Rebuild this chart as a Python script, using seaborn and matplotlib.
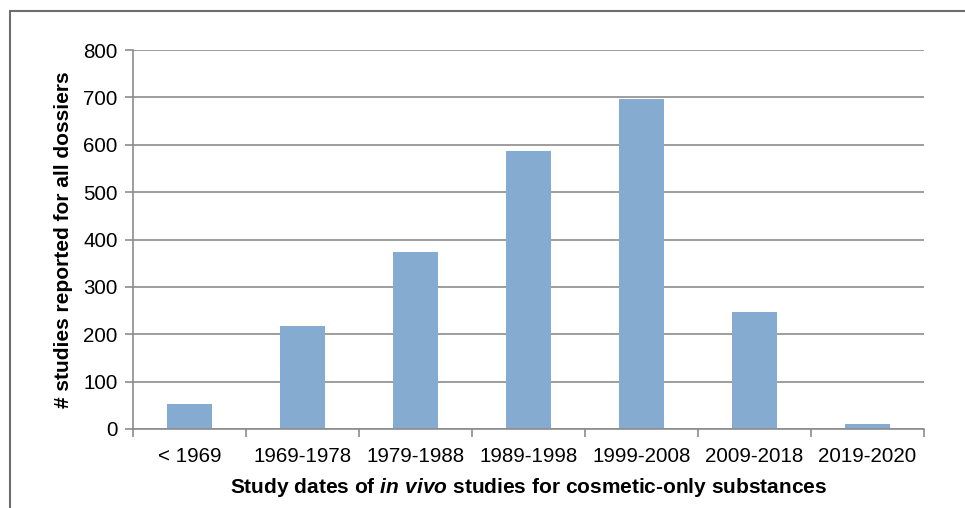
import matplotlib
matplotlib.use('Agg')
import matplotlib.pyplot as plt
import seaborn as sns
import pandas as pd
from matplotlib.patches import Rectangle

#-- Data:

periods = ['< 1969', '1969-1978', '1979-1988', '1989-1998', '1999-2008', '2009-2018', '2019-2020']
n_studies = [53, 217, 373, 586, 697, 247, 10]

df = pd.DataFrame({'period': periods, 'n_studies': n_studies})

#-- Style:

sns.set_style('white')
plt.rcParams['font.family'] = ['Liberation Sans', 'DejaVu Sans']
plt.rcParams['mathtext.fontset'] = 'custom'
plt.rcParams['mathtext.bfit'] = 'Liberation Sans:italic:bold'
plt.rcParams['mathtext.bf'] = 'Liberation Sans:bold'
plt.rcParams['text.color'] = 'black'
plt.rcParams['axes.labelcolor'] = 'black'
plt.rcParams['xtick.labelcolor'] = 'black'
plt.rcParams['ytick.labelcolor'] = 'black'

fig = plt.figure(figsize=(9.65, 5.08), dpi=100)
ax = fig.add_axes([133/965, 1 - 429/508, (924-133)/965, (429-50)/508])

sns.barplot(data=df, x='period', y='n_studies', color='#86abd1', width=0.4, ax=ax,
            saturation=1, linewidth=0)

ax.set_ylim(0, 800)
ax.set_xlim(-0.5, len(periods) - 0.5)
ax.set_yticks(range(0, 801, 100))
ax.yaxis.grid(True, color='#8c8c8c', linewidth=1.2)
ax.set_axisbelow(True)

for s in ['top', 'right']:
    ax.spines[s].set_visible(False)
for s in ['left', 'bottom']:
    ax.spines[s].set_color('#8c8c8c')
    ax.spines[s].set_linewidth(1.2)

# category boundary ticks on x axis
ax.set_xticks([i - 0.5 for i in range(len(periods) + 1)], minor=True)
ax.tick_params(axis='x', which='minor', length=6, color='#8c8c8c', width=1.2, direction='out')
ax.tick_params(axis='x', which='major', length=0, labelsize=14.8, pad=13)
ax.tick_params(axis='y', length=6, color='#8c8c8c', width=1.2, direction='out', labelsize=14.8, pad=5)
ax.tick_params(axis='x', bottom=True, which='both')
ax.tick_params(axis='y', left=True)

ax.set_xlabel(r'Study dates of $\mathbfit{in\ vivo}$ studies for cosmetic-only substances',
              fontsize=15, fontweight='bold', labelpad=7)
ax.set_ylabel('# studies reported for all dossiers', fontsize=15, fontweight='bold', labelpad=7)

# outer frame
fig.patches.append(Rectangle((10/965, -0.1), 1.2, 1 - 11/508 + 0.1, transform=fig.transFigure,
                             fill=False, edgecolor='#6e6e6e', linewidth=1.5, zorder=10))

fig.savefig('out.png', dpi=100)
